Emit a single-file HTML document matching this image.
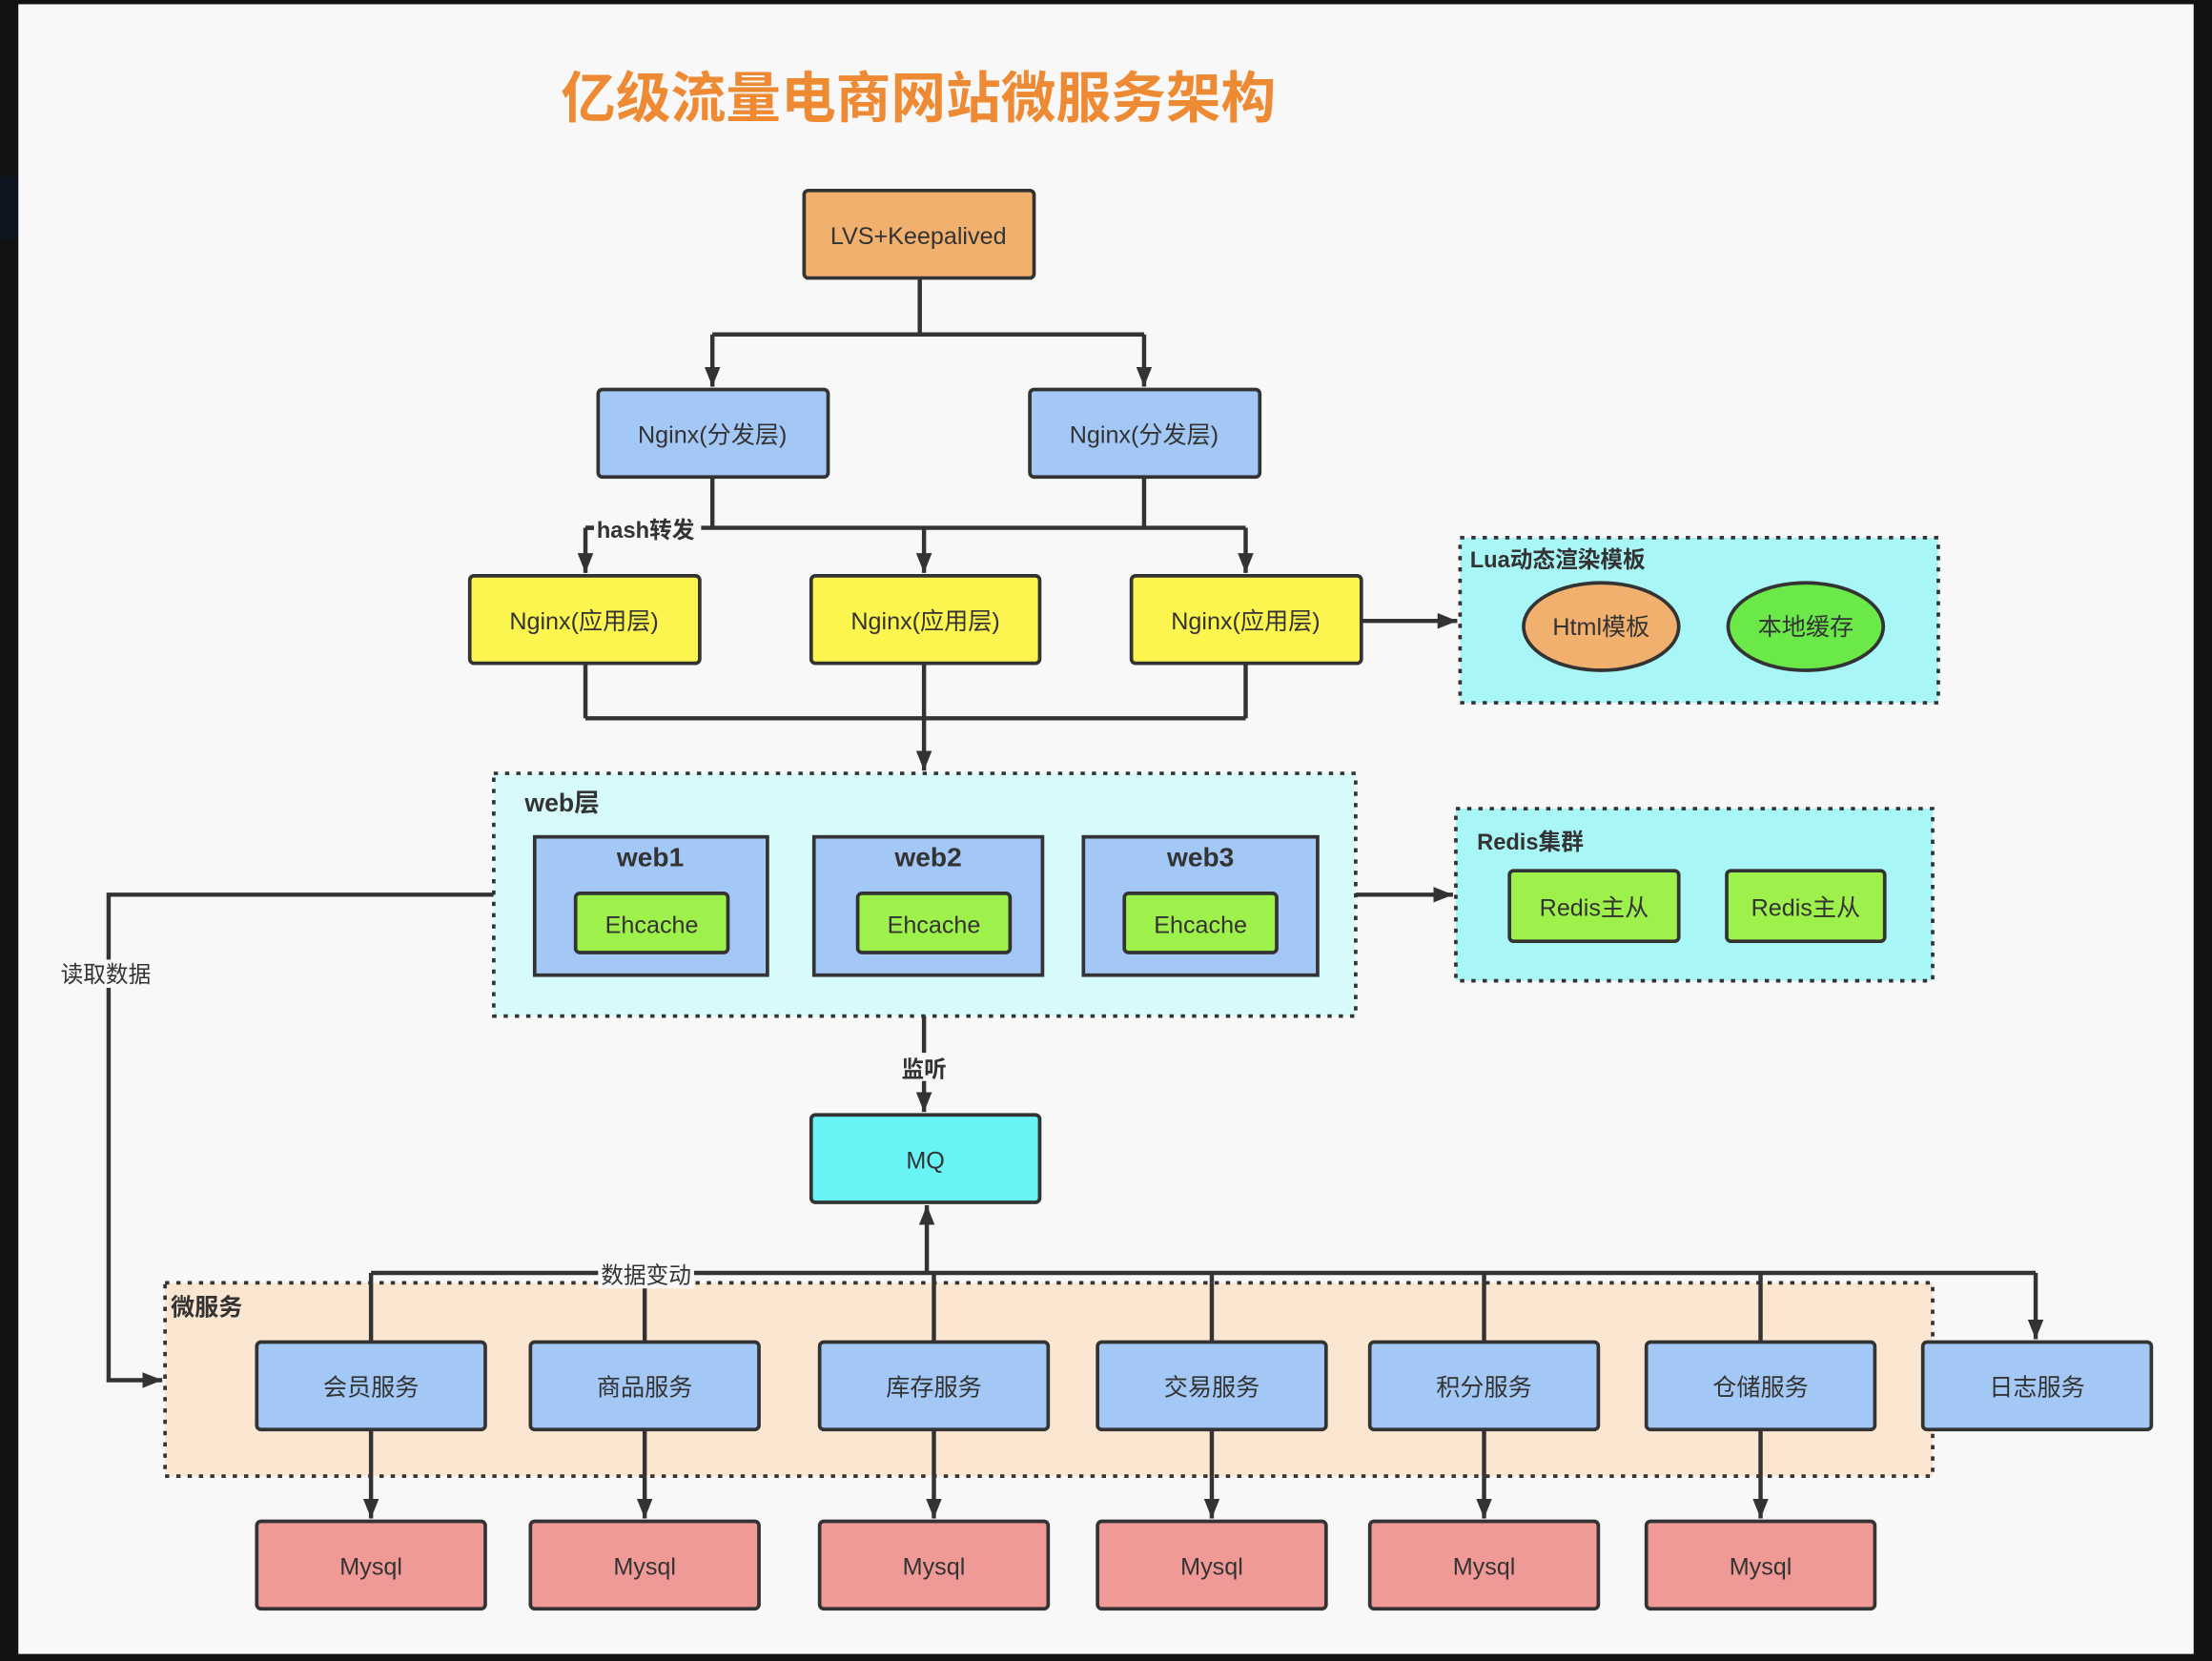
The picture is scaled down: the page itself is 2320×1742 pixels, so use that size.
<!DOCTYPE html>
<html><head><meta charset="utf-8"><style>
html,body{margin:0;padding:0;background:#121212;}
svg{display:block;}
text{font-family:"Liberation Sans","Noto Sans CJK SC",sans-serif;fill:#333;}
</style></head><body>
<svg width="2320" height="1742" viewBox="0 0 1568 1177" preserveAspectRatio="none" xmlns="http://www.w3.org/2000/svg">
<defs>
<marker id="ar" viewBox="0 0 10 10" refX="10" refY="5" markerWidth="14" markerHeight="18" markerUnits="userSpaceOnUse" orient="auto">
<path d="M0,1 L10,5 L0,9 z" fill="#333"/></marker>
</defs>
<rect x="0" y="0" width="1568" height="1177" fill="#121212"/>
<rect x="0" y="125" width="13" height="45" fill="#0d1520"/>
<rect x="13" y="3" width="1542" height="1169" fill="#f8f8f8"/>

<text x="651" y="83" text-anchor="middle" font-size="39" font-weight="bold" style="fill:#ee8a33">亿级流量电商网站微服务架构</text>

<g stroke="#333" stroke-width="3" fill="none">
<path d="M652,197 V237 M505,237 H811"/>
<path d="M505,237 V274" marker-end="url(#ar)"/>
<path d="M811,237 V274" marker-end="url(#ar)"/>
<path d="M505,338 V374 M811,338 V374 M415,374 H883"/>
<path d="M415,374 V406" marker-end="url(#ar)"/>
<path d="M655,374 V406" marker-end="url(#ar)"/>
<path d="M883,374 V406" marker-end="url(#ar)"/>
<path d="M965,440 H1033" marker-end="url(#ar)"/>
<path d="M415,470 V509 M883,470 V509 M415,509 H883 M655,470 V509"/>
<path d="M655,509 V546" marker-end="url(#ar)"/>
<path d="M961,634 H1030" marker-end="url(#ar)"/>
<path d="M350,634 H77 V978 H115" marker-end="url(#ar)"/>
<path d="M655,720 V788" marker-end="url(#ar)"/>
<path d="M263,951 V902 M457,951 V902 M662,951 V902 M859,951 V902 M1052,951 V902 M1248,951 V902 M263,902 H1443"/>
<path d="M1443,902 V949" marker-end="url(#ar)"/>
<path d="M657,902 V854" marker-end="url(#ar)"/>
<path d="M263,1013 V1076" marker-end="url(#ar)"/>
<path d="M457,1013 V1076" marker-end="url(#ar)"/>
<path d="M662,1013 V1076" marker-end="url(#ar)"/>
<path d="M859,1013 V1076" marker-end="url(#ar)"/>
<path d="M1052,1013 V1076" marker-end="url(#ar)"/>
<path d="M1248,1013 V1076" marker-end="url(#ar)"/>
</g>

<g stroke="#333" stroke-width="2.5" stroke-dasharray="3,5">
<rect x="1035" y="381" width="339" height="117" fill="#a9f6f6"/>
<rect x="350" y="548" width="611" height="172" fill="#d7fbfb"/>
<rect x="1032" y="573" width="338" height="122" fill="#a9f6f6"/>
<rect x="117" y="909" width="1253" height="137" fill="#fbe6d1"/>
</g>
<g stroke="#333" stroke-width="3" fill="none">
<path d="M263,951 V909 M457,951 V909 M662,951 V909 M859,951 V909 M1052,951 V909 M1248,951 V909"/>
<path d="M263,1013 V1046 M457,1013 V1046 M662,1013 V1046 M859,1013 V1046 M1052,1013 V1046 M1248,1013 V1046"/>
</g>

<g stroke="#333" stroke-width="2.5">
<rect x="570" y="135" width="163" height="62" rx="3" fill="#f2b06f"/>
<rect x="424" y="276" width="163" height="62" rx="3" fill="#a3c8f5"/>
<rect x="730" y="276" width="163" height="62" rx="3" fill="#a3c8f5"/>
<rect x="333" y="408" width="163" height="62" rx="3" fill="#fdf54f"/>
<rect x="575" y="408" width="162" height="62" rx="3" fill="#fdf54f"/>
<rect x="802" y="408" width="163" height="62" rx="3" fill="#fdf54f"/>
<ellipse cx="1135" cy="444" rx="55" ry="31" fill="#f2b06f"/>
<ellipse cx="1280" cy="444" rx="55" ry="31" fill="#6ae948"/>
<rect x="379" y="593" width="165" height="98" fill="#a3c8f5"/>
<rect x="577" y="593" width="162" height="98" fill="#a3c8f5"/>
<rect x="768" y="593" width="166" height="98" fill="#a3c8f5"/>
<rect x="408" y="633" width="108" height="42" rx="3" fill="#9ef04a"/>
<rect x="608" y="633" width="108" height="42" rx="3" fill="#9ef04a"/>
<rect x="797" y="633" width="108" height="42" rx="3" fill="#9ef04a"/>
<rect x="1070" y="617" width="120" height="50" rx="3" fill="#9ef04a"/>
<rect x="1224" y="617" width="112" height="50" rx="3" fill="#9ef04a"/>
<rect x="575" y="790" width="162" height="62" rx="3" fill="#68f3f5"/>
<g fill="#a3c8f5">
<rect x="182" y="951" width="162" height="62" rx="3"/>
<rect x="376" y="951" width="162" height="62" rx="3"/>
<rect x="581" y="951" width="162" height="62" rx="3"/>
<rect x="778" y="951" width="162" height="62" rx="3"/>
<rect x="971" y="951" width="162" height="62" rx="3"/>
<rect x="1167" y="951" width="162" height="62" rx="3"/>
<rect x="1363" y="951" width="162" height="62" rx="3"/>
</g>
<g fill="#f09a98">
<rect x="182" y="1078" width="162" height="62" rx="3"/>
<rect x="376" y="1078" width="162" height="62" rx="3"/>
<rect x="581" y="1078" width="162" height="62" rx="3"/>
<rect x="778" y="1078" width="162" height="62" rx="3"/>
<rect x="971" y="1078" width="162" height="62" rx="3"/>
<rect x="1167" y="1078" width="162" height="62" rx="3"/>
</g>
</g>

<g font-size="17" text-anchor="middle">
<text x="651" y="173">LVS+Keepalived</text>
<text x="505" y="314">Nginx(分发层)</text>
<text x="811" y="314">Nginx(分发层)</text>
<text x="414" y="446">Nginx(应用层)</text>
<text x="656" y="446">Nginx(应用层)</text>
<text x="883" y="446">Nginx(应用层)</text>
<text x="1135" y="450">Html模板</text>
<text x="1280" y="450">本地缓存</text>
<text x="462" y="661">Ehcache</text>
<text x="662" y="661">Ehcache</text>
<text x="851" y="661">Ehcache</text>
<text x="1130" y="649">Redis主从</text>
<text x="1280" y="649">Redis主从</text>
<text x="656" y="828">MQ</text>
<text x="263" y="989">会员服务</text>
<text x="457" y="989">商品服务</text>
<text x="662" y="989">库存服务</text>
<text x="859" y="989">交易服务</text>
<text x="1052" y="989">积分服务</text>
<text x="1248" y="989">仓储服务</text>
<text x="1444" y="989">日志服务</text>
<text x="263" y="1116">Mysql</text>
<text x="457" y="1116">Mysql</text>
<text x="662" y="1116">Mysql</text>
<text x="859" y="1116">Mysql</text>
<text x="1052" y="1116">Mysql</text>
<text x="1248" y="1116">Mysql</text>
</g>
<g font-size="19" font-weight="bold" text-anchor="middle">
<text x="461" y="614">web1</text>
<text x="658" y="614">web2</text>
<text x="851" y="614">web3</text>
</g>

<rect x="421" y="365" width="76" height="20" fill="#f8f8f8"/>
<rect x="40" y="680" width="74" height="20" fill="#f8f8f8"/>
<rect x="637" y="746" width="38" height="20" fill="#f8f8f8"/>
<rect x="424" y="893" width="68" height="20" fill="#f8f8f8"/>
<g font-size="16" font-weight="bold">
<text x="423" y="381">hash转发</text>
<text x="1042" y="402">Lua动态渲染模板</text>
<text x="372" y="575" font-size="18">web层</text>
<text x="1047" y="602">Redis集群</text>
<text x="121" y="932" font-size="17">微服务</text>
<text x="639" y="763">监听</text>
<text x="426" y="909" font-weight="normal">数据变动</text>
<text x="43" y="696" font-weight="normal">读取数据</text>
</g>
<path d="M415,374 H421" stroke="#333" stroke-width="3"/>
</svg>
</body></html>
